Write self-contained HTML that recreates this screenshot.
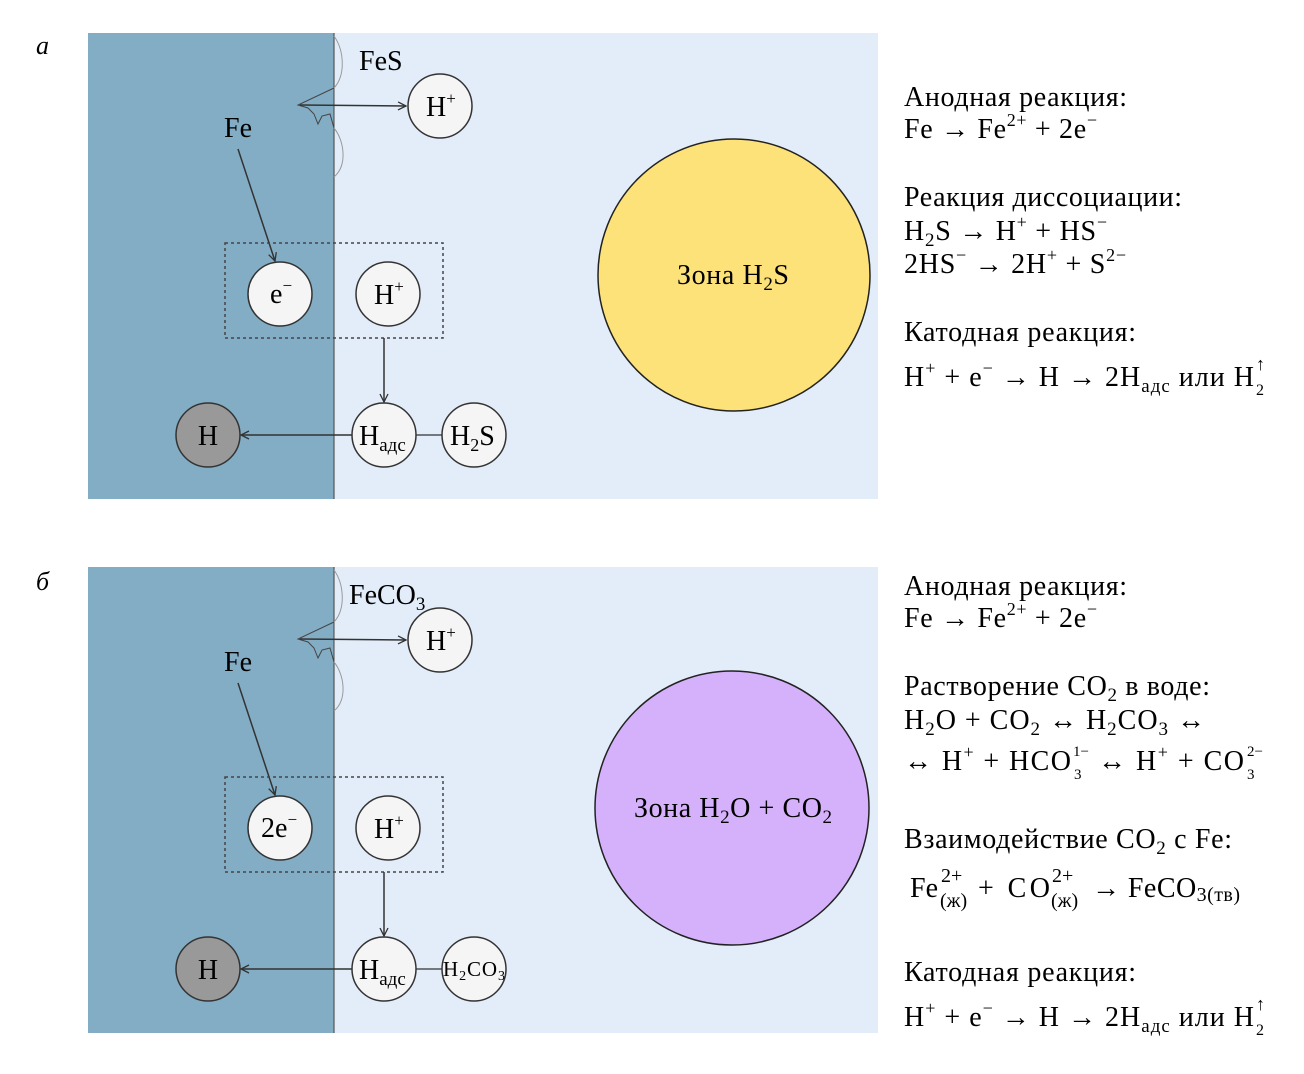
<!DOCTYPE html>
<html><head><meta charset="utf-8"><style>
html,body{margin:0;padding:0;background:#fff;}
svg{display:block;font-family:"Liberation Serif",serif;}
</style></head><body>
<svg width="1304" height="1074" viewBox="0 0 1304 1074" xmlns="http://www.w3.org/2000/svg">
<defs>
<marker id="ar" markerWidth="10" markerHeight="10" refX="9" refY="5" orient="auto" markerUnits="userSpaceOnUse">
<path d="M1,1 L9,5 L1,9" fill="none" stroke="#333" stroke-width="1.3"/>
</marker>
<g id="panel">
<rect x="88" y="33" width="246" height="466" fill="#82adc4"/>
<rect x="334" y="33" width="544" height="466" fill="#e2edf9"/>
<polygon points="334,88 298,105 308,108 314,114 318,124 322,116 330,114 334,128" fill="#82adc4" stroke="#444" stroke-width="1"/>
<line x1="334" y1="33" x2="334" y2="88" stroke="#555" stroke-width="1.2"/>
<line x1="334" y1="128" x2="334" y2="499" stroke="#555" stroke-width="1.2"/>
<path d="M334,36 C344,50 346,75 334,88" fill="none" stroke="#999" stroke-width="1"/>
<path d="M334,128 C344,140 348,165 334,177" fill="none" stroke="#999" stroke-width="1"/>
<line x1="300" y1="105" x2="406" y2="106" stroke="#333" stroke-width="1.5" marker-end="url(#ar)"/>
<circle cx="440" cy="106" r="32" fill="#f5f5f5" stroke="#333" stroke-width="1.5"/>
<text x="426" y="116" font-size="28">H<tspan font-size="17" dy="-12">+</tspan></text>
<text x="224" y="137" font-size="28">Fe</text>
<line x1="238" y1="149" x2="275" y2="261" stroke="#333" stroke-width="1.5" marker-end="url(#ar)"/>
<rect x="225" y="243" width="218" height="95" fill="none" stroke="#444" stroke-width="1.5" stroke-dasharray="3,3"/>
<circle cx="388" cy="294" r="32" fill="#f5f5f5" stroke="#333" stroke-width="1.5"/>
<text x="374" y="304" font-size="28">H<tspan font-size="17" dy="-12">+</tspan></text>
<line x1="384" y1="338" x2="384" y2="402" stroke="#333" stroke-width="1.5" marker-end="url(#ar)"/>
<line x1="352" y1="435" x2="241" y2="435" stroke="#333" stroke-width="1.5" marker-end="url(#ar)"/>
<line x1="416" y1="435" x2="442" y2="435" stroke="#333" stroke-width="1.2"/>
<circle cx="208" cy="435" r="32" fill="#999" stroke="#333" stroke-width="1.5"/>
<text x="208" y="445" font-size="28" text-anchor="middle">H</text>
<circle cx="384" cy="435" r="32" fill="#f5f5f5" stroke="#333" stroke-width="1.5"/>
<text x="359" y="445" font-size="28">H<tspan font-size="19" dy="6">адс</tspan></text>
<circle cx="474" cy="435" r="32" fill="#f5f5f5" stroke="#333" stroke-width="1.5"/>
</g>
</defs>

<text x="36" y="54" font-size="26" font-style="italic">а</text>
<use href="#panel"/>
<text x="359" y="70" font-size="28">FeS</text>
<circle cx="280" cy="294" r="32" fill="#f5f5f5" stroke="#333" stroke-width="1.5"/>
<text x="270" y="303" font-size="28">e<tspan font-size="17" dy="-12">−</tspan></text>
<text x="450" y="445" font-size="28">H<tspan font-size="18" dy="6">2</tspan><tspan dy="-6">S</tspan></text>
<circle cx="734" cy="275" r="136" fill="#fde27a" stroke="#222" stroke-width="1.5"/>
<text x="677" y="284" font-size="28" textLength="112" lengthAdjust="spacing">Зона H<tspan font-size="19" dy="6">2</tspan><tspan dy="-6">S</tspan></text>

<g font-size="28">
<text x="904" y="106" textLength="223">Анодная реакция:</text>
<text x="904" y="138" textLength="193">Fe → Fe<tspan font-size="18" dy="-12">2+</tspan><tspan dy="12"> + 2e</tspan><tspan font-size="18" dy="-12">−</tspan></text>
<text x="904" y="206" textLength="278">Реакция диссоциации:</text>
<text x="904" y="240" textLength="203">H<tspan font-size="19" dy="6">2</tspan><tspan dy="-6">S → H</tspan><tspan font-size="18" dy="-12">+</tspan><tspan dy="12"> + HS</tspan><tspan font-size="18" dy="-12">−</tspan></text>
<text x="904" y="273" textLength="222">2HS<tspan font-size="18" dy="-12">−</tspan><tspan dy="12"> → 2H</tspan><tspan font-size="18" dy="-12">+</tspan><tspan dy="12"> + S</tspan><tspan font-size="18" dy="-12">2−</tspan></text>
<text x="904" y="341" textLength="232">Катодная реакция:</text>
<text x="904" y="386" textLength="350">H<tspan font-size="18" dy="-12">+</tspan><tspan dy="12"> + e</tspan><tspan font-size="18" dy="-12">−</tspan><tspan dy="12"> → H → 2H</tspan><tspan font-size="19" dy="6">адс</tspan><tspan dy="-6"> или  H</tspan></text>
<text x="1256" y="395" font-size="16">2</text>
<text x="1256" y="370" font-size="18">↑</text>
</g>

<text x="36" y="590" font-size="26" font-style="italic">б</text>
<use href="#panel" y="534"/>
<text x="349" y="604" font-size="28">FeCO<tspan font-size="19" dy="6">3</tspan></text>
<circle cx="280" cy="828" r="32" fill="#f5f5f5" stroke="#333" stroke-width="1.5"/>
<text x="261" y="837" font-size="28">2e<tspan font-size="17" dy="-12">−</tspan></text>
<text x="474" y="976" font-size="21" text-anchor="middle" textLength="62">H<tspan font-size="14" dy="4">2</tspan><tspan dy="-4">CO</tspan><tspan font-size="14" dy="4">3</tspan></text>
<circle cx="732" cy="808" r="137" fill="#d6b1fb" stroke="#222" stroke-width="1.5"/>
<text x="634" y="817" font-size="28" textLength="198" lengthAdjust="spacing">Зона H<tspan font-size="19" dy="6">2</tspan><tspan dy="-6">O + CO</tspan><tspan font-size="19" dy="6">2</tspan></text>

<g font-size="28">
<text x="904" y="595" textLength="223">Анодная реакция:</text>
<text x="904" y="627" textLength="193">Fe → Fe<tspan font-size="18" dy="-12">2+</tspan><tspan dy="12"> + 2e</tspan><tspan font-size="18" dy="-12">−</tspan></text>
<text x="904" y="695" textLength="306">Растворение CO<tspan font-size="19" dy="6">2</tspan><tspan dy="-6"> в воде:</tspan></text>
<text x="904" y="729" textLength="301">H<tspan font-size="19" dy="6">2</tspan><tspan dy="-6">O + CO</tspan><tspan font-size="19" dy="6">2</tspan><tspan dy="-6"> ↔ H</tspan><tspan font-size="19" dy="6">2</tspan><tspan dy="-6">CO</tspan><tspan font-size="19" dy="6">3</tspan><tspan dy="-6"> ↔</tspan></text>
<text x="904" y="770" textLength="167">↔ H<tspan font-size="18" dy="-12">+</tspan><tspan dy="12"> +  HCO</tspan></text>
<text x="1073" y="756" font-size="15">1−</text>
<text x="1074" y="779" font-size="15">3</text>
<text x="1098" y="770" textLength="146">↔ H<tspan font-size="18" dy="-12">+</tspan><tspan dy="12"> +  CO</tspan></text>
<text x="1247" y="756" font-size="15">2−</text>
<text x="1247" y="779" font-size="15">3</text>
<text x="904" y="848" textLength="328">Взаимодействие CO<tspan font-size="19" dy="6">2</tspan><tspan dy="-6"> с Fe:</tspan></text>
<text x="910" y="897">Fe</text>
<text x="941" y="882" font-size="20">2+</text>
<text x="940" y="907" font-size="20">(ж)</text>
<text x="978" y="897" textLength="72">+  CO</text>
<text x="1052" y="882" font-size="20">2+</text>
<text x="1051" y="907" font-size="20">(ж)</text>
<text x="1092" y="897" textLength="148">→ FeCO<tspan font-size="20" dy="4">3(тв)</tspan></text>
<text x="904" y="981" textLength="232">Катодная реакция:</text>
<text x="904" y="1026" textLength="350">H<tspan font-size="18" dy="-12">+</tspan><tspan dy="12"> + e</tspan><tspan font-size="18" dy="-12">−</tspan><tspan dy="12"> → H → 2H</tspan><tspan font-size="19" dy="6">адс</tspan><tspan dy="-6"> или  H</tspan></text>
<text x="1256" y="1035" font-size="16">2</text>
<text x="1256" y="1010" font-size="18">↑</text>
</g>
</svg>
</body></html>
